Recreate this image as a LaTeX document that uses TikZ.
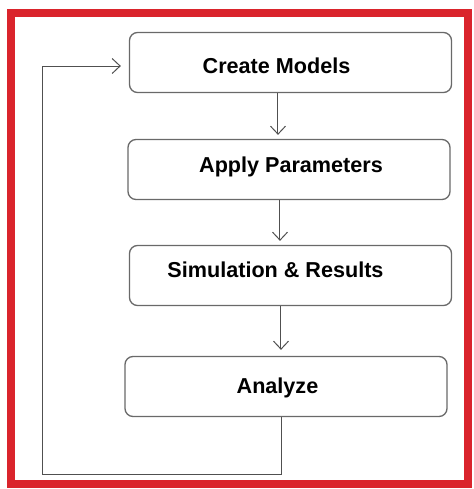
\documentclass[tikz,border=0pt]{standalone}
\usepackage{fontspec}
\setmainfont{Liberation Sans}
\usetikzlibrary{arrows.meta,positioning}
\definecolor{framered}{RGB}{218,36,44}
\definecolor{boxgray}{RGB}{105,105,105}
\definecolor{linegray}{RGB}{80,80,80}
\tikzset{
  stepbox/.style={draw=boxgray, line width=0.65pt, rounded corners=4pt,
    minimum width=161pt, minimum height=30pt, inner sep=0pt},
  boxtext/.style={font=\bfseries\fontsize{10.8}{13}\selectfont, inner sep=0pt, anchor=base},
  flow/.style={draw=linegray, line width=0.5pt,
    -{Straight Barb[length=4pt,width=7.5pt]}, shorten >=2pt}
}

\begin{document}
\begin{tikzpicture}[x=0.5pt,y=-0.5pt]
\useasboundingbox[fill=white] (0,0) rectangle (473,489);
% outer frame
\draw[framered, line width=4pt] (11,13) rectangle (468,484);
% boxes
\node[stepbox] (create) at (290.5,62.5) {};
\node[stepbox] (apply) at (289,169.5) {};
\node[stepbox] (simres) at (290.5,275.5) {};
\node[stepbox] (analyze) at (286,386.5) {};
% box texts
\node[boxtext] (createtxt) at (276.5,73.8) {Create Models};
\node[boxtext] (applytxt) at (291,172.8) {Apply Parameters};
\node[boxtext] (simrestxt) at (275.5,277.8) {Simulation \& Results};
\node[boxtext] (analyzetxt) at (277.5,393.8) {Analyze};
% loop corners
\coordinate (loopbl) at (43,474);
\coordinate (looptl) at (43,66);
% arrows
\draw[flow] ([xshift=-6.25pt]create.south) -- ([xshift=-6.25pt]create.south |- apply.north);
\draw[flow] ([xshift=-4.5pt]apply.south) -- ([xshift=-4.5pt]apply.south |- simres.north);
\draw[flow, shorten >=3pt] ([xshift=-4.75pt]simres.south) -- ([xshift=-4.75pt]simres.south |- analyze.north);
\draw[flow, shorten >=4pt] ([xshift=-2pt]analyze.south) -- ([xshift=-2pt]analyze.south |- loopbl)
  -- (loopbl) -- (looptl) -- (create.west |- looptl);
\end{tikzpicture}
\end{document}
